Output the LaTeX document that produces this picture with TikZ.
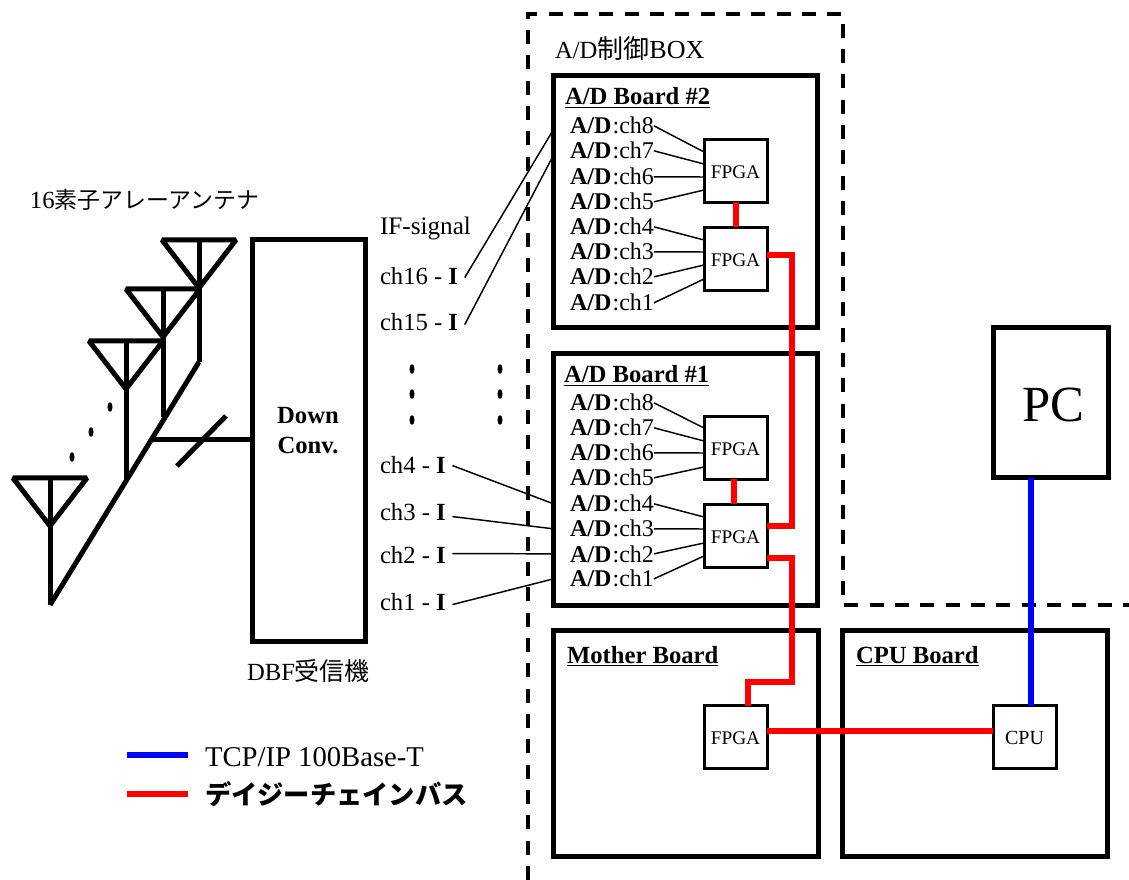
\documentclass[tikz,border=0pt]{standalone}
\usepackage{fontspec}
\setmainfont{Liberation Serif}
\newfontfamily\cjk{Noto Sans CJK JP}
\usetikzlibrary{calc}
\newcommand{\fs}[1]{\fontsize{#1}{1.2\dimexpr#1pt\relax}\selectfont}
\tikzset{
  txt/.style={inner sep=0pt,outer sep=0pt,anchor=base west,font=\fs{18.5}},
  adlab/.style={txt,font=\fs{18}},
  boardbox/.style={draw,line width=3.75pt,inner sep=0pt,outer sep=0pt},
  chipbox/.style={draw,fill=white,line width=2.25pt,inner sep=0pt,outer sep=0pt,minimum size=47.25pt,text height=12pt,font=\fs{14.5}},
  sig/.style={line width=1.1pt},
  ant/.style={line width=3.75pt,line join=bevel},
  redbus/.style={red,line width=4.5pt},
  bluebus/.style={blue,line width=4.5pt},
  dashline/.style={line width=3pt,dash pattern=on 10.5pt off 8.5pt}
}
\begin{document}
\begin{tikzpicture}[x=0.75pt,y=-0.75pt]
\useasboundingbox (0,0) rectangle (1129,880);

% dashed box
\draw[dashline] (528,880) -- (528,14) -- (843,14) -- (843,605) -- (1129,605);

% antennas
\foreach \x/\y/\e in {199/240/362,163/289/417,126/341/480,50/478/605}
{
  \draw[ant] (\x-37,\y) -- (\x+37,\y) -- (\x,\y+48) -- cycle;
  \draw[ant] (\x,\y) -- (\x,\e);
}
\draw[ant] (50,605) -- (199,362);
\foreach \x/\y in {110/407,91/432,72/457}
  \fill (\x,\y) ellipse (1.9pt and 3.6pt);
\foreach \x in {412,500}
  \foreach \y in {369,394,420}
    \fill (\x,\y) ellipse (1.9pt and 3.6pt);

% boxes
\node[boardbox,minimum width=84.75pt,minimum height=300.75pt] (bdDown) at (308.5,440.5) {};
\node[boardbox,minimum width=198pt,minimum height=189pt] (bdB) at (685.5,202) {};
\node[boardbox,minimum width=198pt,minimum height=189pt] (bdA) at (685.5,479.5) {};
\node[boardbox,minimum width=198.75pt,minimum height=169.5pt] (bdM) at (685.5,743) {};
\node[boardbox,minimum width=198.75pt,minimum height=169.5pt] (bdC) at (975,743) {};
\node[boardbox,minimum width=86.25pt,minimum height=112.5pt] (bdPC) at (1050.5,403) {};

\node[chipbox] (fpgaBt) at (735.5,171) {FPGA};
\node[chipbox] (fpgaBb) at (735.5,259) {FPGA};
\node[chipbox] (fpgaAt) at (735.5,448) {FPGA};
\node[chipbox] (fpgaAb) at (735.5,536) {FPGA};
\node[chipbox] (fpgaM) at (735.5,737) {FPGA};
\node[chipbox,font=\fs{15}] (cpuC) at (1024.5,737) {CPU};

% texts
\node[txt] (antT) at (30,209) {16\fs{17.2}{\cjk 素子アレーアンテナ}};
\node[txt] (boxT) at (555,59) {A/D\fs{19.5}{\cjk 制御}BOX};
\node[txt] (dbfT) at (247,680) {DBF\fs{18.7}{\cjk 受信機}};
\node[txt] (ifT) at (380,235) {\fs{18.9}IF-signal};
\node[txt,font=\fs{18.5}\bfseries,anchor=base,align=center] (downT) at (308,454) {Down\\[1pt]Conv.};
\node[txt,font=\fs{18.5}\bfseries] (titleB) at (565,105) {\underline{A/D Board \#2}};
\node[txt,font=\fs{18.5}\bfseries] (titleA) at (564,383) {\underline{A/D Board \#1}};
\node[txt,font=\fs{18.5}\bfseries] (titleM) at (567,663) {\underline{Mother Board}};
\node[txt,font=\fs{18.5}\bfseries] (titleC) at (856,663) {\underline{CPU Board}};
\node[txt,anchor=center,font=\fs{38}] (pcT) at (1053,405) {PC};

% A/D channels
\foreach \b/\f/\y/\c/\d in {B/t/134/8/-19,B/t/159/7/-7,B/t/185/6/6,B/t/210/5/19,
                            B/b/235/4/-19,B/b/260/3/-7,B/b/285/2/6,B/b/311/1/20,
                            A/t/411/8/-20,A/t/436/7/-7,A/t/461/6/5,A/t/486/5/19,
                            A/b/512/4/-19,A/b/537/3/-7,A/b/562/2/7,A/b/587/1/20}
{
  \node[adlab] (ad\b\c) at (570,\y) {\textbf{A/D}\hspace{1pt}:ch\c};
  \draw[sig] (ad\b\c.east) -- ($(fpga\b\f.west)+(0,\d)$);
}

% IF inputs
\foreach \c/\n/\y in {16/chP/285,15/chO/331,4/chD/474,3/chC/521,2/chB/564,1/chA/610}
  \node[txt] (\n) at (380,\y) {ch\c{} - \textbf{I}};
\coordinate (inP) at (552,132);
\coordinate (inO) at (552,158);
\draw[sig] ([xshift=5pt,yshift=-0.75pt]chP.east) -- (inP);
\draw[sig] ([xshift=5pt,yshift=-1.5pt]chO.east) -- (inO);
\draw[sig] ([xshift=5pt]chD.east) -- (adA4.east -| bdA.west);
\draw[sig] ([xshift=5pt,yshift=-3pt]chC.east) -- (adA3.east -| bdA.west);
\draw[sig] ([xshift=5pt,yshift=1.5pt]chB.east) -- (adA2.east -| bdA.west);
\draw[sig] ([xshift=5pt,yshift=-2.25pt]chA.east) -- (adA1.east -| bdA.west);

% buses
\coordinate (busS) at (150,440);
\coordinate (slashA) at (177,466);
\coordinate (slashB) at (226,416);
\draw[ant] (busS) -- (busS -| bdDown.west);
\draw[ant] (slashA) -- (slashB);

\draw[redbus] (fpgaBt.south) -- (fpgaBb.north);
\draw[redbus] ($(fpgaAt.south)+(-1.5,0)$) -- ($(fpgaAb.north)+(-1.5,0)$);
\draw[redbus] ($(fpgaBb.east)+(0,-4)$) -- (792,255) -- (792,526) -- ($(fpgaAb.east)+(0,-10)$);
\draw[redbus] ($(fpgaAb.east)+(0,22)$) -- (792,558) -- (792,682) -- (748,682) -- ($(fpgaM.north)+(12.5,0)$);
\draw[redbus] ($(fpgaM.east)+(0,-6)$) -- ($(cpuC.west)+(0,-6)$);
\draw[bluebus] ($(bdPC.south)+(-19.5,0)$) -- ($(cpuC.north)+(6.5,0)$);

% legend
\coordinate (keyA) at (127,755);
\coordinate (keyB) at (188,755);
\coordinate (keyC) at (127,794);
\coordinate (keyD) at (188,794);
\draw[bluebus] (keyA) -- (keyB);
\draw[redbus] (keyC) -- (keyD);
\node[txt,font=\fs{21.5}] (keyT) at (205,766) {TCP/IP 100Base-T};
\node[txt,font=\fs{19.7}\cjk\bfseries] (keyR) at (205,804) {デイジーチェインバス};
\end{tikzpicture}
\end{document}
